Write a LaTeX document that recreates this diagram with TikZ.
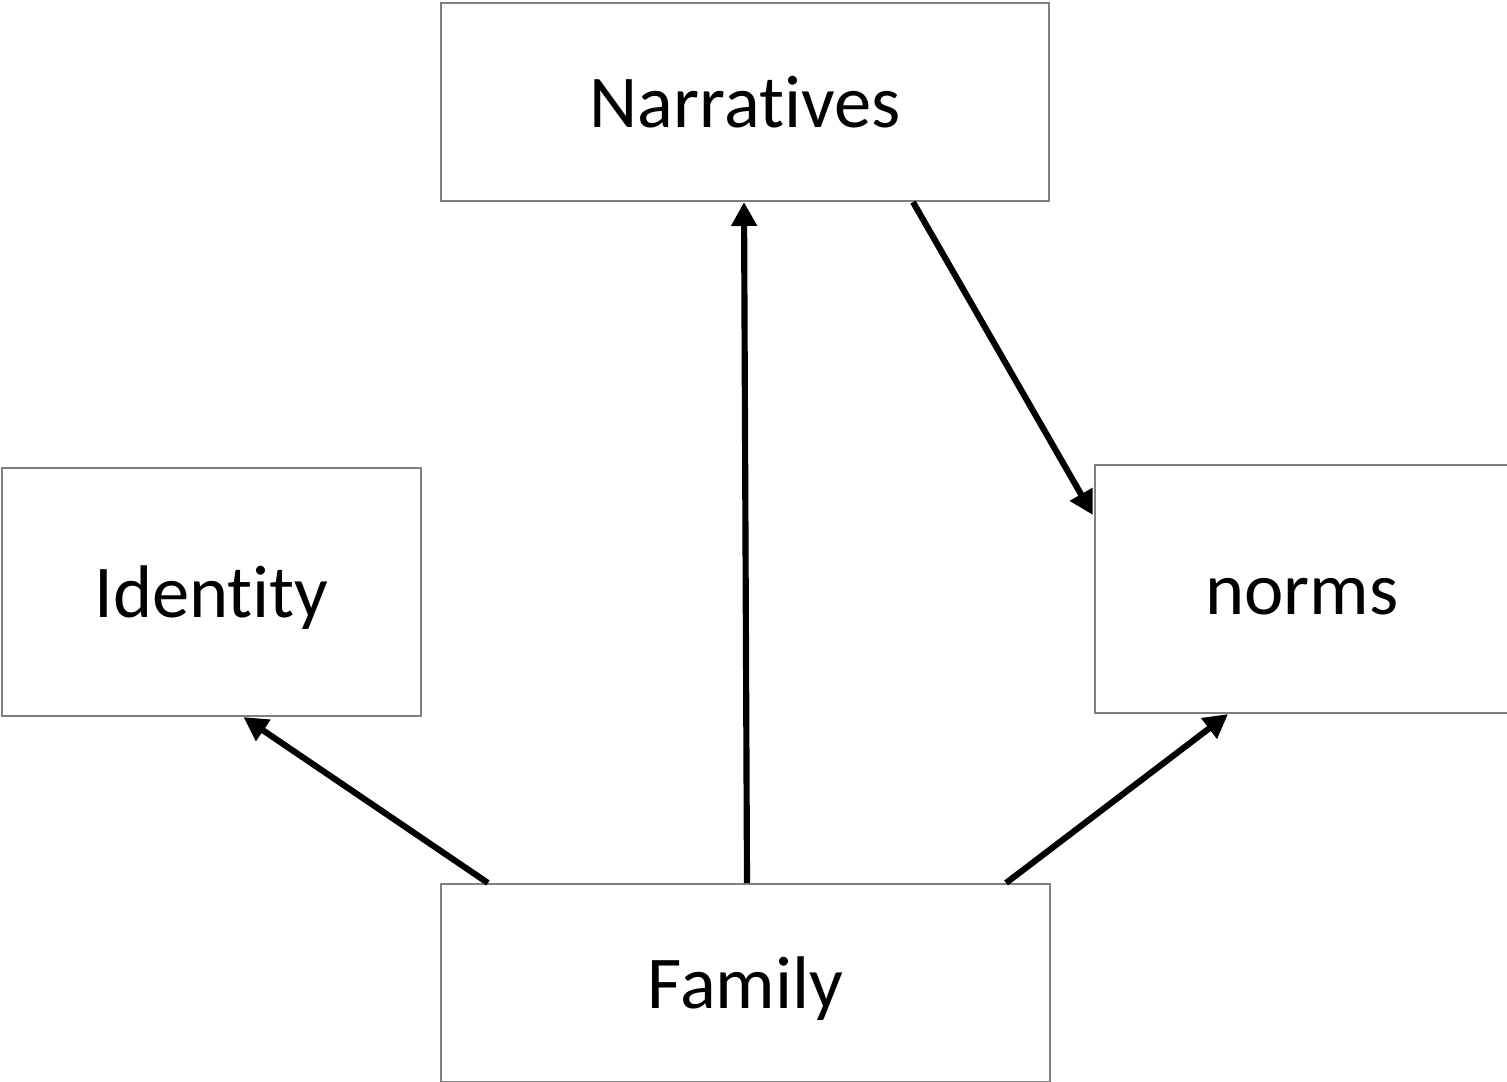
\documentclass[tikz,border=0pt]{standalone}
\usepackage{fontspec}
\setmainfont[Ligatures=NoCommon]{Carlito}
\usetikzlibrary{calc,arrows.meta}
\definecolor{boxgray}{HTML}{808080}
\begin{document}
\begin{tikzpicture}[x=0.01cm,y=-0.01cm,
  box/.style={draw=boxgray,line width=0.6pt,rectangle,inner sep=0pt,
    font=\fontsize{21.2}{25}\selectfont,text height=14.5pt,text depth=0pt},
  arr/.style={line width=1.75pt,-{Triangle[length=6.8pt,width=7pt]}}]
\useasboundingbox (0,0) rectangle (1507,1081);
\node[box,minimum width=608*0.01cm,minimum height=198*0.01cm] (narr) at (745,102) {Narratives};
\node[box,minimum width=419*0.01cm,minimum height=248*0.01cm] (ident) at (211.5,592) {Identity};
\node[box,minimum width=414*0.01cm,minimum height=248*0.01cm] (norms) at (1302,589) {norms};
\node[box,minimum width=609*0.01cm,minimum height=198*0.01cm] (fam) at (745.5,983) {Family};
\draw[arr] ($(fam.north)+(1.5,0)$) -- ($(narr.south)+(-1,0)$);
\draw[arr] ($(narr.south)+(168,0)$) -- ($(norms.west)+(-1,-74)$);
\draw[arr] ($(fam.north west)+(48,0)$) -- ($(ident.south)+(32,0)$);
\draw[arr] ($(fam.north east)+(-45,0)$) -- ($(norms.south)+(-74,0)$);
\end{tikzpicture}
\end{document}
